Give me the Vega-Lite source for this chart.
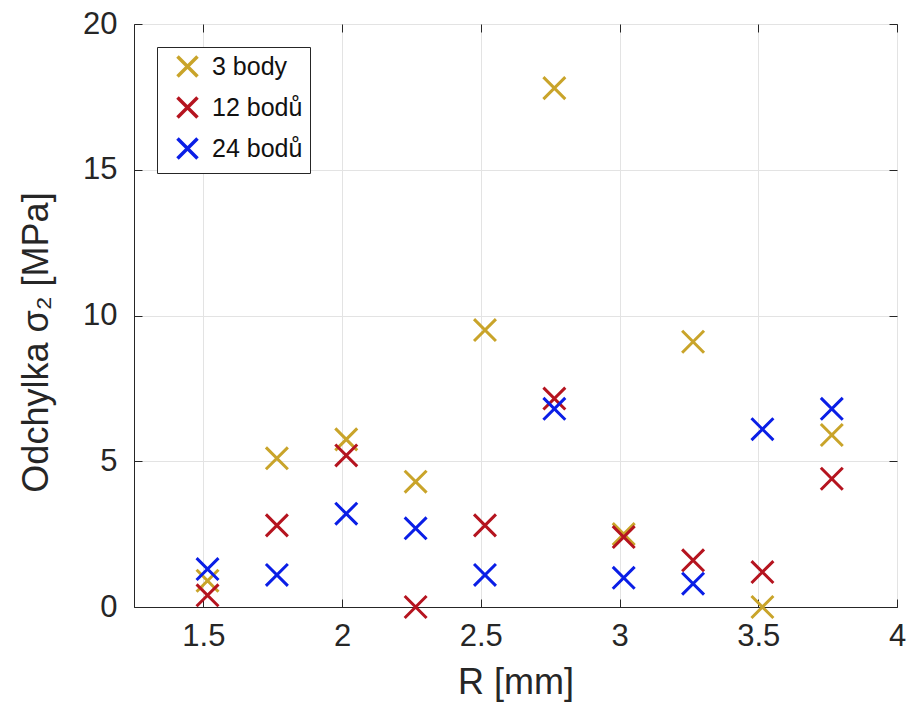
{
  "$schema": "https://vega.github.io/schema/vega-lite/v6.json",
  "width": 763,
  "height": 583,
  "autosize": "none",
  "padding": {"left": 134, "top": 24, "right": 15, "bottom": 100},
  "background": "white",
  "config": {
    "font": "Liberation Sans",
    "view": {"stroke": "#262626", "strokeWidth": 1}
  },
  "data": {
    "values": [
      {"R": 1.515, "s": 0.9, "series": "3 body"},
      {"R": 1.765, "s": 5.1, "series": "3 body"},
      {"R": 2.015, "s": 5.75, "series": "3 body"},
      {"R": 2.265, "s": 4.3, "series": "3 body"},
      {"R": 2.515, "s": 9.5, "series": "3 body"},
      {"R": 2.765, "s": 17.8, "series": "3 body"},
      {"R": 3.015, "s": 2.5, "series": "3 body"},
      {"R": 3.265, "s": 9.1, "series": "3 body"},
      {"R": 3.515, "s": 0.0, "series": "3 body"},
      {"R": 3.765, "s": 5.9, "series": "3 body"},
      {"R": 1.515, "s": 0.4, "series": "12 bodů"},
      {"R": 1.765, "s": 2.8, "series": "12 bodů"},
      {"R": 2.015, "s": 5.2, "series": "12 bodů"},
      {"R": 2.265, "s": 0.0, "series": "12 bodů"},
      {"R": 2.515, "s": 2.8, "series": "12 bodů"},
      {"R": 2.765, "s": 7.15, "series": "12 bodů"},
      {"R": 3.015, "s": 2.4, "series": "12 bodů"},
      {"R": 3.265, "s": 1.6, "series": "12 bodů"},
      {"R": 3.515, "s": 1.2, "series": "12 bodů"},
      {"R": 3.765, "s": 4.4, "series": "12 bodů"},
      {"R": 1.515, "s": 1.3, "series": "24 bodů"},
      {"R": 1.765, "s": 1.1, "series": "24 bodů"},
      {"R": 2.015, "s": 3.2, "series": "24 bodů"},
      {"R": 2.265, "s": 2.7, "series": "24 bodů"},
      {"R": 2.515, "s": 1.1, "series": "24 bodů"},
      {"R": 2.765, "s": 6.8, "series": "24 bodů"},
      {"R": 3.015, "s": 1.0, "series": "24 bodů"},
      {"R": 3.265, "s": 0.8, "series": "24 bodů"},
      {"R": 3.515, "s": 6.1, "series": "24 bodů"},
      {"R": 3.765, "s": 6.8, "series": "24 bodů"}
    ]
  },
  "resolve": {"scale": {"x": "independent", "y": "independent"}, "axis": {"x": "independent", "y": "independent"}},
  "layer": [
    {
      "mark": {"type": "point", "shape": "M-1,-1L1,1M-1,1L1,-1", "filled": false, "strokeWidth": 3, "size": 480, "opacity": 1, "clip": false},
      "encoding": {
        "x": {
          "field": "R", "type": "quantitative",
          "scale": {"domain": [1.25, 4], "nice": false, "zero": false},
          "axis": {
            "title": "R [mm]", "values": [1.5, 2, 2.5, 3, 3.5, 4], "format": "~g",
            "labelFontSize": 31, "titleFontSize": 36, "titleFontWeight": "normal",
            "labelColor": "#262626", "titleColor": "#262626",
            "domainColor": "#262626", "tickColor": "#262626",
            "tickSize": -8, "labelPadding": 22, "titlePadding": 14,
            "gridColor": "#e3e3e3", "gridWidth": 1, "labelFlush": false
          }
        },
        "y": {
          "field": "s", "type": "quantitative",
          "scale": {"domain": [0, 20], "nice": false},
          "axis": {
            "title": "Odchylka σ₂ [MPa]", "values": [0, 5, 10, 15, 20],
            "labelFontSize": 31, "titleFontSize": 36, "titleFontWeight": "normal",
            "labelColor": "#262626", "titleColor": "#262626",
            "domainColor": "#262626", "tickColor": "#262626",
            "tickSize": -8, "labelPadding": 25, "titlePadding": 27, "titleY": 318,
            "gridColor": "#e3e3e3", "gridWidth": 1
          }
        },
        "color": {
          "field": "series", "type": "nominal",
          "scale": {"domain": ["3 body", "12 bodů", "24 bodů"], "range": ["#c9a42a", "#b5141f", "#0a1ee6"]},
          "legend": {
            "title": null, "orient": "top-left", "offset": 23,
            "labelFontSize": 25, "labelColor": "#111111",
            "symbolType": "M-1,-1L1,1M-1,1L1,-1", "symbolSize": 400, "symbolStrokeWidth": 3.5,
            "symbolFillColor": "transparent",
            "strokeColor": "#262626", "fillColor": "white", "padding": 7,
            "rowPadding": 6, "symbolOffset": 11, "labelOffset": 12
          }
        }
      }
    },
    {
      "mark": {"type": "point", "opacity": 0},
      "encoding": {
        "x": {
          "field": "R", "type": "quantitative",
          "scale": {"domain": [1.25, 4], "nice": false, "zero": false},
          "axis": {"orient": "top", "title": null, "labels": false, "grid": false, "domain": false,
                   "values": [1.5, 2, 2.5, 3, 3.5, 4], "tickSize": -8, "tickColor": "#262626"}
        },
        "y": {
          "field": "s", "type": "quantitative",
          "scale": {"domain": [0, 20], "nice": false},
          "axis": {"orient": "right", "title": null, "labels": false, "grid": false, "domain": false,
                   "values": [0, 5, 10, 15, 20], "tickSize": -8, "tickColor": "#262626"}
        }
      }
    }
  ]
}
